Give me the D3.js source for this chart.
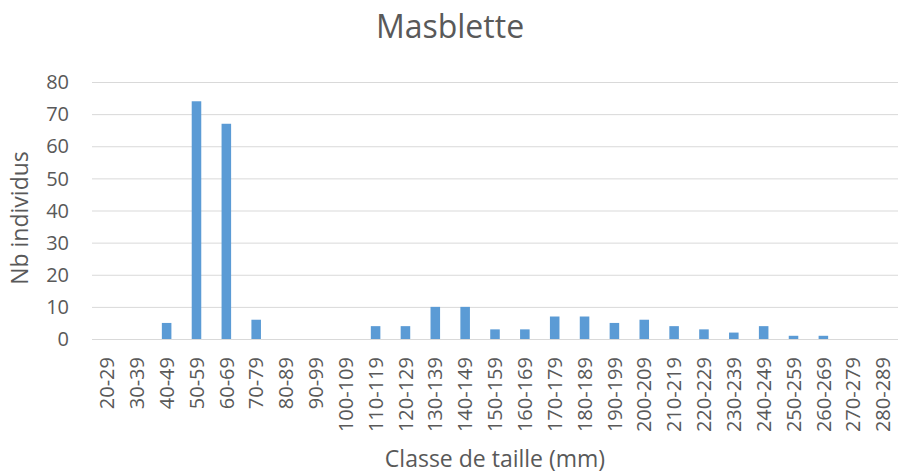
<!DOCTYPE html>
<html>
<head>
<meta charset="utf-8">
<script src="https://cdn.jsdelivr.net/npm/d3@7"></script>
<style>
  body { margin: 0; background: #fff; }
  text { font-family: "Open Sans", Lato, sans-serif; fill: #595959; }
</style>
</head>
<body>
<div id="chart"></div>
<script>
// size classes (mm) and counts
const classes = ['20-29', '30-39', '40-49', '50-59', '60-69', '70-79', '80-89', '90-99',
    '100-109', '110-119', '120-129', '130-139', '140-149', '150-159', '160-169', '170-179',
    '180-189', '190-199', '200-209', '210-219', '220-229', '230-239', '240-249', '250-259',
    '260-269', '270-279', '280-289'];
const counts = [0, 0, 5, 74, 67, 6, 0, 0, 0, 4, 4, 10, 10, 3, 3, 7, 7, 5, 6, 4, 3, 2, 4, 1, 1, 0, 0];
const yTicks = [0, 10, 20, 30, 40, 50, 60, 70, 80];

const W = 898, H = 475;
const margin = {top: 82, right: 0, bottom: 136, left: 92};

const svg = d3.select('#chart').append('svg')
    .attr('width', W)
    .attr('height', H);

const x = d3.scaleBand()
    .domain(classes)
    .range([margin.left, W - margin.right])
    .paddingInner(0.68)
    .paddingOuter(0.34);

const y = d3.scaleLinear()
    .domain([0, 80])
    .range([H - margin.bottom, margin.top]);

// gridlines
svg.append('g')
    .selectAll('line')
    .data(yTicks)
    .join('line')
    .attr('x1', margin.left)
    .attr('x2', W - margin.right)
    .attr('y1', d => y(d) + 0.5)
    .attr('y2', d => y(d) + 0.5)
    .attr('stroke', '#d9d9d9')
    .attr('stroke-width', 1);

// y labels
svg.append('g')
    .selectAll('text')
    .data(yTicks)
    .join('text')
    .attr('x', 69)
    .attr('y', d => y(d))
    .attr('dy', '0.36em')
    .attr('text-anchor', 'end')
    .style('font-size', '20px')
    .text(d => d);

// bars
svg.append('g')
    .selectAll('rect')
    .data(counts)
    .join('rect')
    .attr('x', (d, i) => x(classes[i]))
    .attr('y', d => y(d))
    .attr('width', x.bandwidth())
    .attr('height', d => y(0) - y(d))
    .attr('fill', '#5b9bd5');

// x labels, rotated
svg.append('g')
    .selectAll('text')
    .data(classes)
    .join('text')
    .attr('transform', d => `translate(${x(d) + x.bandwidth() / 2}, ${y(0) + 18}) rotate(-90)`)
    .attr('dy', '0.36em')
    .attr('text-anchor', 'end')
    .style('font-size', '20px')
    .text(d => d);

svg.append('text')
    .attr('x', 450)
    .attr('y', 38)
    .attr('text-anchor', 'middle')
    .style('font-size', '32px')
    .text('Masblette');

svg.append('text')
    .attr('x', 495)
    .attr('y', 467)
    .attr('text-anchor', 'middle')
    .style('font-size', '23px')
    .text('Classe de taille (mm)');

svg.append('text')
    .attr('transform', 'translate(28, 218) rotate(-90)')
    .attr('text-anchor', 'middle')
    .style('font-size', '23px')
    .text('Nb individus');
</script>
</body>
</html>
